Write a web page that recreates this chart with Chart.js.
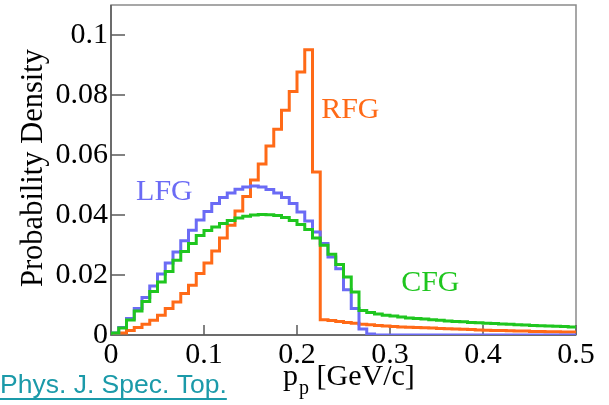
<!DOCTYPE html>
<html>
<head>
<meta charset="utf-8">
<script src="https://cdn.jsdelivr.net/npm/chart.js@4/dist/chart.umd.min.js"></script>
<style>
  html, body { margin: 0; padding: 0; background: #fff; }
  #wrap { width: 609px; height: 405px; position: relative; }
</style>
</head>
<body>
<div id="wrap"><canvas id="meu-grafico"></canvas></div>
<script>
// histogram binning (60 bins from 0 to 0.5 GeV/c)
const xMin = 0
const xMax = 0.5
const nBins = 60

// probability density per bin
const rfg = [0.0002, 0.0007, 0.0015, 0.0025, 0.0036, 0.0049, 0.0066, 0.0088, 0.0110, 0.0138,
  0.0166, 0.0205, 0.0240, 0.0280, 0.0323, 0.0366, 0.0413, 0.0462, 0.0517, 0.0570,
  0.0630, 0.0686, 0.0749, 0.0812, 0.0877, 0.0951, 0.0543, 0.0051, 0.0048, 0.0045,
  0.0042, 0.0039, 0.0036, 0.0034, 0.0032, 0.0030, 0.0028, 0.0027, 0.0026, 0.0025,
  0.0024, 0.0023, 0.0022, 0.0021, 0.0020, 0.0019, 0.0018, 0.0017, 0.0016, 0.0015,
  0.0015, 0.0014, 0.0013, 0.0013, 0.0012, 0.0012, 0.0011, 0.0011, 0.0010, 0.0010]

const lfg = [0.0007, 0.0025, 0.0055, 0.0088, 0.0125, 0.0163, 0.0203, 0.0240, 0.0277, 0.0314,
  0.0349, 0.0383, 0.0412, 0.0438, 0.0458, 0.0473, 0.0486, 0.0493, 0.0497, 0.0493,
  0.0485, 0.0473, 0.0458, 0.0438, 0.0410, 0.0380, 0.0343, 0.0305, 0.0260, 0.0221,
  0.0151, 0.0088, 0.0020, 0.0003, 0, 0, 0, 0, 0, 0,
  0, 0, 0, 0, 0, 0, 0, 0, 0, 0,
  0, 0, 0, 0, 0, 0, 0, 0, 0, 0]

const cfg = [0.0007, 0.0023, 0.0050, 0.0080, 0.0112, 0.0145, 0.0177, 0.0212, 0.0249, 0.0278,
  0.0305, 0.0332, 0.0348, 0.0360, 0.0372, 0.0382, 0.0390, 0.0396, 0.0400, 0.0402,
  0.0401, 0.0398, 0.0392, 0.0382, 0.0368, 0.0352, 0.0323, 0.0299, 0.0269, 0.0235,
  0.0193, 0.0143, 0.0082, 0.0075, 0.0070, 0.0066, 0.0063, 0.0060, 0.0057, 0.0055,
  0.0053, 0.0051, 0.0049, 0.0047, 0.0045, 0.0044, 0.0042, 0.0041, 0.0039, 0.0038,
  0.0037, 0.0036, 0.0034, 0.0033, 0.0032, 0.0031, 0.0030, 0.0029, 0.0028, 0.0027]

// axis ticks
const xTickValues = [0, 0.1, 0.2, 0.3, 0.4, 0.5]
const xTickLabels = ["0", "0.1", "0.2", "0.3", "0.4", "0.5"]
const yTickValues = [0, 0.02, 0.04, 0.06, 0.08, 0.1]
const yTickLabels = ["0", "0.02", "0.04", "0.06", "0.08", "0.1"]

// in-plot labels: [text, x, y] in data units
const seriesLabels = [
  ["LFG", 0.027, 0.0449],
  ["RFG", 0.226, 0.0722],
  ["CFG", 0.312, 0.0146]
]

const serif = "'Liberation Serif', 'Times New Roman', serif"
const colRFG = "#ff6a17"
const colLFG = "#6b6bf5"
const colCFG = "#1fc61f"
const labelColors = [colLFG, colRFG, colCFG]

// turn bin contents into step points (left edge of every bin + closing edge)
function toSteps(values) {
  const w = (xMax - xMin) / nBins
  const pts = [{x: xMin, y: 0}]
  values.forEach((v, i) => pts.push({x: xMin + i * w, y: v}))
  pts.push({x: xMax, y: values[values.length - 1]})
  return pts
}

const decor = {
  id: "decor",
  beforeDatasetsDraw(chart) {
    const {ctx, chartArea: a, scales} = chart
    ctx.save()
    ctx.lineWidth = 1.5
    ctx.strokeStyle = "#8a8a8a"
    ctx.strokeRect(a.left, a.top, a.right - a.left, a.bottom - a.top)
    ctx.strokeStyle = "#5a5a5a"
    ctx.beginPath()
    ctx.moveTo(a.left, a.top)
    ctx.lineTo(a.left, a.bottom)
    ctx.lineTo(a.right, a.bottom)
    // ticks point into the frame
    yTickValues.forEach(v => {
      const y = scales.y.getPixelForValue(v)
      ctx.moveTo(a.left, y)
      ctx.lineTo(a.left + 14, y)
    })
    xTickValues.forEach(v => {
      const x = scales.x.getPixelForValue(v)
      ctx.moveTo(x, a.bottom)
      ctx.lineTo(x, a.bottom - 10)
    })
    ctx.stroke()
    ctx.restore()
  },
  afterDraw(chart) {
    const {ctx, chartArea: a, scales} = chart
    ctx.save()
    // series labels
    ctx.font = "30px " + serif
    ctx.textBaseline = "alphabetic"
    ctx.textAlign = "left"
    seriesLabels.forEach((l, i) => {
      ctx.fillStyle = labelColors[i]
      ctx.fillText(l[0], scales.x.getPixelForValue(l[1]), scales.y.getPixelForValue(l[2]))
    })
    // y axis title
    ctx.fillStyle = "#000"
    ctx.save()
    ctx.translate(42, 168)
    ctx.rotate(-Math.PI / 2)
    ctx.textAlign = "center"
    ctx.font = "30.5px " + serif
    ctx.fillText("Probability Density", 0, 0)
    ctx.restore()
    // x axis title with subscript
    let x = 283
    ctx.font = "30px " + serif
    ctx.fillText("p", x, 385)
    x += ctx.measureText("p").width + 1
    ctx.font = "20px " + serif
    ctx.fillText("p", x, 394)
    x += ctx.measureText("p").width
    ctx.font = "30px " + serif
    ctx.fillText(" [GeV/c]", x, 385)
    // source link
    ctx.font = "26.5px 'Liberation Sans', Arial, sans-serif"
    ctx.fillStyle = "#1b9aa9"
    const src = "Phys. J. Spec. Top."
    ctx.fillText(src, 0, 393)
    ctx.fillRect(0, 398, ctx.measureText(src).width, 2)
    ctx.restore()
  }
}

const local = document.querySelector("#meu-grafico")

const dados = {
  datasets: [
    {label: "CFG", data: toSteps(cfg), borderColor: colCFG},
    {label: "LFG", data: toSteps(lfg), borderColor: colLFG},
    {label: "RFG", data: toSteps(rfg), borderColor: colRFG}
  ].map(d => Object.assign(d, {stepped: true, borderWidth: 3, pointRadius: 0, fill: false, tension: 0}))
}

new Chart(local, {
  type: "line",
  data: dados,
  plugins: [decor],
  options: {
    responsive: true,
    maintainAspectRatio: false,
    animation: false,
    layout: {padding: {left: 0, right: 33, top: 5, bottom: 0}},
    plugins: {legend: {display: false}, tooltip: {enabled: false}},
    scales: {
      x: {
        type: "linear",
        min: xMin,
        max: xMax,
        afterBuildTicks: s => { s.ticks = xTickValues.map(v => ({value: v})) },
        afterFit: s => { s.height = 70; s.paddingLeft = 0; s.paddingRight = 0 },
        grid: {display: false, drawTicks: false},
        border: {display: false},
        ticks: {
          font: {family: serif, size: 30},
          color: "#000",
          padding: 2,
          maxRotation: 0,
          autoSkip: false,
          callback: (v, i) => xTickLabels[i]
        }
      },
      y: {
        min: 0,
        max: 0.11,
        afterBuildTicks: s => { s.ticks = yTickValues.map(v => ({value: v})) },
        afterFit: s => { s.width = 111; s.paddingTop = 0; s.paddingBottom = 0 },
        grid: {display: false, drawTicks: false},
        border: {display: false},
        ticks: {
          font: {family: serif, size: 30},
          color: "#000",
          padding: 3,
          autoSkip: false,
          callback: (v, i) => yTickLabels[i]
        }
      }
    }
  }
})
</script>
</body>
</html>
